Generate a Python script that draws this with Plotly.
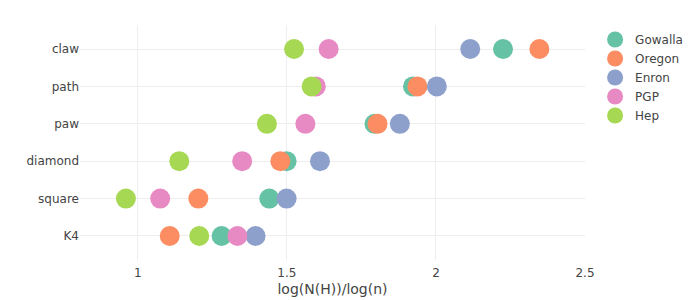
import plotly.graph_objects as go

categories = ["K4", "square", "diamond", "paw", "path", "claw"]
series_names = ["Gowalla", "Oregon", "Enron", "PGP", "Hep"]
gowalla = [1.281, 1.441, 1.499, 1.794, 1.923, 2.225]
oregon = [1.107, 1.203, 1.478, 1.804, 1.938, 2.347]
enron = [1.395, 1.499, 1.611, 1.879, 2.003, 2.115]
pgp = [1.334, 1.075, 1.350, 1.562, 1.597, 1.640]
hep = [1.206, 0.960, 1.139, 1.433, 1.583, 1.524]
colors = ["#66c2a5", "#fc8d62", "#8da0cb", "#e78ac3", "#a6d854"]

fig = go.Figure()
for name, vals, col in zip(series_names, [gowalla, oregon, enron, pgp, hep], colors):
    fig.add_trace(go.Scatter(
        x=vals, y=categories, mode="markers", name=name,
        marker=dict(color=col, size=20, line=dict(width=0)),
    ))

fig.update_layout(
    width=700, height=300,
    margin=dict(l=80, r=115, t=25, b=40),
    plot_bgcolor="white", paper_bgcolor="white",
    font=dict(family="Verdana, DejaVu Sans, sans-serif", size=12, color="#444"),
    legend=dict(itemsizing="trace", font=dict(size=12)),
    xaxis=dict(title=dict(text="log(N(H))/log(n)", standoff=4), showgrid=True, gridcolor="#eeeeee",
               range=[0.806, 2.5], zeroline=False, automargin=False,
               ticks="outside", ticklen=2, tickcolor="rgba(0,0,0,0)",
               tickvals=[1, 1.5, 2, 2.5], ticktext=["1", "1.5", "2", "2.5"]),
    yaxis=dict(type="category", categoryorder="array", categoryarray=categories,
               range=[-0.643, 5.643], automargin=False,
               showgrid=True, gridcolor="#eeeeee", zeroline=False),
)
fig.write_html("out.html")
